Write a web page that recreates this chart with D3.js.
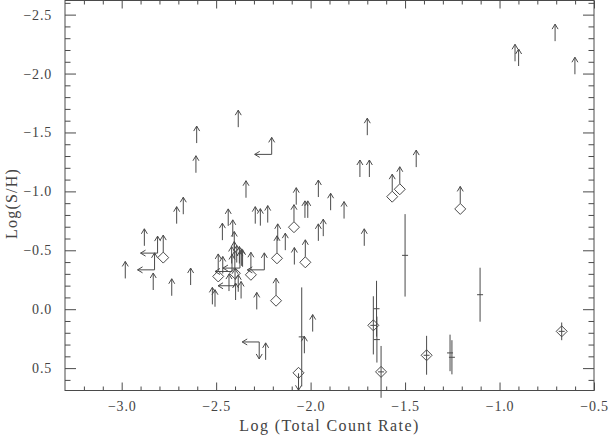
<!DOCTYPE html>
<html>
<head>
<meta charset="utf-8">
<script src="https://cdn.jsdelivr.net/npm/d3@7"></script>
<style>
  body { margin: 0; background: #fff; }
  svg text { font-family: "Liberation Serif", "DejaVu Serif", serif; fill: #444; }
</style>
</head>
<body>
<div id="wrapper"></div>
<script>
// lower limits (up arrows): [log rate, log S/H]
const upLimits = [
    [-0.706, -2.275], [-0.918, -2.104], [-0.899, -2.064], [-0.601, -1.994],
    [-1.441, -1.206], [-1.700, -1.477], [-1.739, -1.122], [-1.689, -1.122],
    [-1.716, -0.538], [-1.959, -0.952], [-2.076, -0.887], [-1.894, -0.840],
    [-1.823, -0.769], [-2.030, -0.775], [-2.015, -0.775], [-2.293, -0.726],
    [-2.266, -0.709], [-2.227, -0.735], [-2.174, -0.580], [-1.959, -0.580],
    [-1.933, -0.620], [-2.134, -0.501], [-2.086, -0.379], [-2.467, -0.586],
    [-2.412, -0.614], [-2.404, -0.515], [-2.436, -0.707], [-2.383, -1.545],
    [-2.603, -1.410], [-2.607, -1.158], [-2.342, -0.946], [-2.674, -0.806],
    [-2.709, -0.726], [-2.880, -0.538], [-2.520, -0.041], [-2.506, -0.021],
    [-2.285, 0.002], [-1.989, 0.190], [-2.238, 0.430], [-2.033, 0.374],
    [-2.981, -0.261], [-2.833, -0.163], [-2.735, -0.114], [-2.635, -0.205],
    [-2.418, -0.388], [-2.404, -0.430], [-2.391, -0.396], [-2.377, -0.388],
    [-2.365, -0.368], [-2.432, -0.154], [-2.383, -0.148], [-2.368, -0.091],
    [-2.397, -0.078], [-2.465, -0.303], [-2.360, -0.360]
]
// diamonds with a lower limit arrow
const diamondUp = [
    [-1.208, -0.851], [-1.568, -0.955], [-1.528, -1.018], [-2.088, -0.696],
    [-2.178, -0.432], [-2.028, -0.398], [-2.183, -0.072], [-2.780, -0.438],
    [-2.316, -0.292], [-2.489, -0.278], [-2.401, -0.305]
]
// diamonds with an upper limit arrow
const diamondDown = [[-2.064, 0.540]]
// diamonds with error bar: [x, y, err]
const diamondErr = [
    [-1.668, 0.137, 0.247], [-1.627, 0.532, 0.22], [-1.386, 0.391, 0.165],
    [-0.671, 0.188, 0.075]
]
// detections with error bar: [x, y, err]
const crossErr = [
    [-1.500, -0.457, 0.35], [-2.047, 0.235, 0.42], [-1.651, -0.004, 0.237],
    [-1.649, 0.258, 0.195], [-1.262, 0.371, 0.155], [-1.252, 0.408, 0.145],
    [-1.103, -0.123, 0.229]
]
// upper limit in rate + lower limit in S/H
const leftUp = [
    [-2.206, -1.314], [-2.810, -0.476], [-2.826, -0.334], [-2.245, -0.334],
    [-2.374, -0.349], [-2.416, -0.320], [-2.400, -0.199]
]
// upper limit in rate + upper limit in S/H
const leftDown = [[-2.272, 0.278]]

const xTicks = [-3.0, -2.5, -2.0, -1.5, -1.0, -0.5]
const yTicks = [-2.5, -2.0, -1.5, -1.0, -0.5, 0.0, 0.5]

function drawChart() {
    var dimension = {
        width: 611,
        height: 435,
        left: 65,
        right: 594,
        top: 0.5,
        bottom: 390.5
    }

    const svg = d3.select("#wrapper")
        .append("svg")
        .attr("width", dimension.width)
        .attr("height", dimension.height)

    const x = d3.scaleLinear().domain([-3.3, -0.5]).range([dimension.left, dimension.right])
    const y = d3.scaleLinear().domain([-2.62, 0.69]).range([dimension.top, dimension.bottom])

    const xMinor = d3.range(-3.2, -0.5, 0.1).filter(v => Math.abs(v * 2 - Math.round(v * 2)) > 0.01)
    const yMinor = d3.range(-2.6, 0.7, 0.1).filter(v => Math.abs(v * 2 - Math.round(v * 2)) > 0.01)
    const fmt = d3.format(".1f")
    const ink = "#4a4a4a"

    // axes: ticks point inward, mirrored on top and right
    function addAxis(axis, tx, ty, labels) {
        const g = svg.append("g")
            .attr("transform", `translate(${tx},${ty})`)
            .call(axis)
        g.select(".domain").remove()
        g.selectAll("line").attr("stroke", ink)
        if (!labels) g.selectAll("text").remove()
        else g.selectAll("text").style("font-size", "14px").attr("fill", ink)
                .style("font-family", '"Liberation Serif", serif')
                .style("letter-spacing", "0.8px")
        return g
    }
    addAxis(d3.axisBottom(x).tickValues(xTicks).tickSize(-8).tickPadding(11).tickFormat(fmt), 0, dimension.bottom, true)
    addAxis(d3.axisBottom(x).tickValues(xMinor).tickSize(-4), 0, dimension.bottom, false)
    addAxis(d3.axisTop(x).tickValues(xTicks).tickSize(-8), 0, dimension.top, false)
    addAxis(d3.axisTop(x).tickValues(xMinor).tickSize(-4), 0, dimension.top, false)
    addAxis(d3.axisLeft(y).tickValues(yTicks).tickSize(-11).tickPadding(13).tickFormat(fmt), dimension.left, 0, true)
    addAxis(d3.axisLeft(y).tickValues(yMinor).tickSize(-5.5), dimension.left, 0, false)
    addAxis(d3.axisRight(y).tickValues(yTicks).tickSize(-11), dimension.right, 0, false)
    addAxis(d3.axisRight(y).tickValues(yMinor).tickSize(-5.5), dimension.right, 0, false)

    svg.append("rect")
        .attr("x", dimension.left)
        .attr("y", dimension.top)
        .attr("width", dimension.right - dimension.left)
        .attr("height", dimension.bottom - dimension.top)
        .attr("fill", "none")
        .attr("stroke", ink)

    svg.append("text")
        .attr("x", (dimension.left + dimension.right) / 2)
        .attr("y", 431)
        .attr("text-anchor", "middle")
        .style("font-size", "16px")
        .style("letter-spacing", "1.4px")
        .text("Log (Total Count Rate)")

    svg.append("text")
        .attr("transform", `translate(17,${(dimension.top + dimension.bottom) / 2 + 8}) rotate(-90)`)
        .attr("text-anchor", "middle")
        .style("font-size", "16px")
        .style("letter-spacing", "1.2px")
        .text("Log(S/H)")

    // marker paths
    const L = 17, hw = 3, hh = 5, ds = 5.5
    const up = (px, py) => `M${px},${py}V${py - L}M${px - hw},${py - L + hh}L${px},${py - L}L${px + hw},${py - L + hh}`
    const down = (px, py) => `M${px},${py}V${py + L}M${px - hw},${py + L - hh}L${px},${py + L}L${px + hw},${py + L - hh}`
    const left = (px, py) => `M${px},${py}H${px - L}M${px - L + hh},${py - hw}L${px - L},${py}L${px - L + hh},${py + hw}`
    const diamond = (px, py) => `M${px},${py - ds}L${px + ds},${py}L${px},${py + ds}L${px - ds},${py}Z`
    const cross = (px, py, e) => `M${px - 3},${py}H${px + 3}M${px},${y(e[0])}V${y(e[1])}`

    const marks = svg.append("g")
        .attr("fill", "none")
        .attr("stroke", ink)
        .attr("stroke-width", 1)

    marks.selectAll(".up").data(upLimits).enter()
        .append("path").attr("class", "up")
        .attr("d", d => up(x(d[0]), y(d[1])))

    marks.selectAll(".dup").data(diamondUp).enter()
        .append("path").attr("class", "dup")
        .attr("d", d => diamond(x(d[0]), y(d[1])) + up(x(d[0]), y(d[1]) - ds))

    marks.selectAll(".ddown").data(diamondDown).enter()
        .append("path").attr("class", "ddown")
        .attr("d", d => diamond(x(d[0]), y(d[1])) + down(x(d[0]), y(d[1]) + 0.5))

    marks.selectAll(".derr").data(diamondErr).enter()
        .append("path").attr("class", "derr")
        .attr("d", d => diamond(x(d[0]), y(d[1])) + cross(x(d[0]), y(d[1]), [d[1] - d[2], d[1] + d[2]]))

    marks.selectAll(".cerr").data(crossErr).enter()
        .append("path").attr("class", "cerr")
        .attr("d", d => cross(x(d[0]), y(d[1]), [d[1] - d[2], d[1] + d[2]]))

    marks.selectAll(".lup").data(leftUp).enter()
        .append("path").attr("class", "lup")
        .attr("d", d => left(x(d[0]), y(d[1])) + up(x(d[0]), y(d[1])))

    marks.selectAll(".ldown").data(leftDown).enter()
        .append("path").attr("class", "ldown")
        .attr("d", d => left(x(d[0]), y(d[1])) + down(x(d[0]), y(d[1])))
}

drawChart()
</script>
</body>
</html>
